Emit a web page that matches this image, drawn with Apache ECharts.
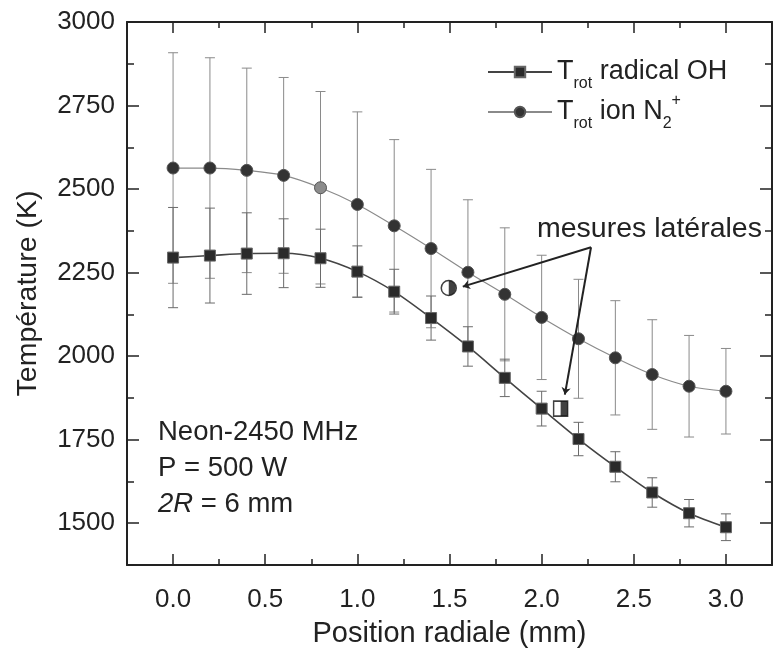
<!DOCTYPE html>
<html>
<head>
<meta charset="utf-8">
<title>Température vs position radiale</title>
<script src="https://cdn.jsdelivr.net/npm/echarts@6/dist/echarts.min.js"></script>
<style>
  html, body { margin: 0; padding: 0; background: #fff; }
  #chart { width: 775px; height: 653px; }
</style>
</head>
<body>
<div id="chart"></div>
<script>
// radial position (mm)
var positions = [0.0, 0.2, 0.4, 0.6, 0.8, 1.0, 1.2, 1.4, 1.6, 1.8, 2.0, 2.2, 2.4, 2.6, 2.8, 3.0];
// T_rot radical OH (K) and its error
var ohTemp = [2295, 2301, 2307, 2308, 2293, 2253, 2193, 2114, 2029, 1935, 1843, 1752, 1669, 1592, 1530, 1488];
var ohErr  = [150, 142, 122, 103, 87, 77, 67, 66, 59, 56, 52, 50, 45, 44, 41, 40];
// T_rot ion N2+ (K) and its error
var n2Temp = [2563, 2563, 2556, 2541, 2504, 2454, 2390, 2322, 2251, 2185, 2116, 2052, 1995, 1945, 1910, 1895];
var n2Err  = [345, 330, 306, 293, 288, 277, 258, 237, 217, 199, 186, 178, 171, 164, 152, 128];
// lateral measurements [position, temperature]
var lateralN2 = [1.496, 2204];
var lateralOH = [2.103, 1843];
// annotation arrows: from the label to each lateral point
var arrowFrom = [2.268, 2326];
var arrowToN2 = [1.572, 2208];
var arrowToOH = [2.126, 1885];
var yTicks = [1500, 1750, 2000, 2250, 2500, 2750, 3000];
var xTicks = [0.0, 0.5, 1.0, 1.5, 2.0, 2.5, 3.0];

var FONT = "'Liberation Sans', Arial, sans-serif";
var chart = echarts.init(document.getElementById('chart'));

function pairs(ys) {
  return positions.map(function (x, i) { return [x, ys[i]]; });
}
function errData(ys, es) {
  return positions.map(function (x, i) { return [x, ys[i] - es[i], ys[i] + es[i]]; });
}
function errorBar(color) {
  return function (params, api) {
    var x = api.value(0);
    var top = api.coord([x, api.value(2)]);
    var bot = api.coord([x, api.value(1)]);
    var hw = 5;
    var st = { stroke: color, lineWidth: 1 };
    return {
      type: 'group',
      children: [
        { type: 'line', shape: { x1: top[0] - hw, y1: top[1], x2: top[0] + hw, y2: top[1] }, style: st },
        { type: 'line', shape: { x1: top[0], y1: top[1], x2: bot[0], y2: bot[1] }, style: st },
        { type: 'line', shape: { x1: bot[0] - hw, y1: bot[1], x2: bot[0] + hw, y2: bot[1] }, style: st }
      ]
    };
  };
}

// right half filled glyphs for the lateral points
var halfDisc = 'path://M0,-10 A10,10 0 0,1 0,10 Z';
var halfSquare = 'path://M0,0 L6,0 L6,14 L0,14 Z';

var names = {
  oh: 'T{sub|rot} radical OH',
  n2: 'T{sub|rot} ion N{sub|2}{sup|+}'
};

function xAxisDef(pos, labels) {
  return {
    type: 'value', position: pos, min: -0.25, max: 3.25, interval: 0.25,
    axisLine: { onZero: false, lineStyle: { color: '#222', width: 2 } },
    axisTick: { inside: true, length: 6, lineStyle: { color: '#222', width: 1.5 } },
    axisLabel: labels ? {
      show: true, margin: 22, color: '#222', fontSize: 26, fontFamily: FONT,
      formatter: function (v) { return xTicks.indexOf(Math.round(v * 100) / 100) >= 0 ? v.toFixed(1) : ''; }
    } : { show: false },
    splitLine: { show: false }
  };
}
function xMajor(pos) {
  return {
    type: 'value', position: pos, min: -0.25, max: 3.25,
    axisLine: { show: false, onZero: false },
    axisTick: { inside: true, length: 11, customValues: xTicks, lineStyle: { color: '#222', width: 1.5 } },
    axisLabel: { show: false }, splitLine: { show: false }
  };
}
function yAxisDef(pos, labels) {
  return {
    type: 'value', position: pos, min: 1375, max: 3000, interval: 125,
    axisLine: { show: true, onZero: false, lineStyle: { color: '#222', width: 2 } },
    axisTick: { inside: true, length: 7, lineStyle: { color: '#222', width: 1.5 } },
    axisLabel: labels ? {
      show: true, margin: 12, color: '#222', fontSize: 26, fontFamily: FONT,
      formatter: function (v) { return yTicks.indexOf(v) >= 0 ? String(v) : ''; }
    } : { show: false },
    splitLine: { show: false }
  };
}
function yMajor(pos) {
  return {
    type: 'value', position: pos, min: 1375, max: 3000, offset: 0,
    axisLine: { show: false, onZero: false },
    axisTick: { inside: true, length: 12, customValues: yTicks, lineStyle: { color: '#222', width: 1.5 } },
    axisLabel: { show: false }, splitLine: { show: false }
  };
}

var xMain = xAxisDef('bottom', true);
xMain.name = 'Position radiale (mm)';
xMain.nameLocation = 'middle';
xMain.nameGap = 54;
xMain.nameTextStyle = { fontSize: 29, color: '#222', fontFamily: FONT };

var yMain = yAxisDef('left', true);
yMain.name = 'Température (K)';
yMain.nameLocation = 'middle';
yMain.nameGap = 84;
yMain.nameTextStyle = { fontSize: 28.5, color: '#222', fontFamily: FONT };

var option = {
  backgroundColor: '#fff',
  animation: false,
  textStyle: { fontFamily: FONT },
  grid: { left: 127, top: 22, right: -11, bottom: 86 },
  xAxis: [xMain, xAxisDef('top', false), xMajor('bottom'), xMajor('top')],
  yAxis: [yMain, yAxisDef('right', false), yMajor('left'), yMajor('right')],
  legend: {
    orient: 'vertical',
    left: 482, top: 47,
    itemWidth: 64, itemHeight: 13, itemGap: 0,
    data: ['oh', 'n2'],
    formatter: function (n) { return names[n]; },
    textStyle: {
      color: '#222', fontSize: 27, fontFamily: FONT, lineHeight: 36,
      rich: {
        sub: { fontSize: 16, lineHeight: 16, padding: [24, 0, 0, 0], color: '#222', fontFamily: FONT },
        sup: { fontSize: 16, lineHeight: 16, padding: [0, 0, 22, 0], color: '#222', fontFamily: FONT }
      }
    }
  },
  graphic: [
    { type: 'text', left: 537, top: 215,
      style: { text: 'mesures latérales', fontSize: 28.5, fill: '#222', fontFamily: FONT } },
    { type: 'text', left: 158, top: 414,
      style: {
        text: 'Neon-2450 MHz\nP = 500 W\n{i|2R} = 6 mm',
        fontSize: 27.5, lineHeight: 36, fill: '#222', fontFamily: FONT,
        rich: { i: { fontStyle: 'italic', fontSize: 27.5, fontFamily: FONT, fill: '#222' } }
      } }
  ],
  series: [
    {
      type: 'custom', name: 'errN2', renderItem: errorBar('#8a8a8a'),
      data: errData(n2Temp, n2Err), z: 1, silent: true
    },
    {
      type: 'custom', name: 'errOH', renderItem: errorBar('#6a6a6a'),
      data: errData(ohTemp, ohErr), z: 1, silent: true
    },
    {
      type: 'line', name: 'n2', data: pairs(n2Temp).map(function (p, i) {
        return i === 4 ? { value: p, itemStyle: { color: '#8c8c8c' } } : p;
      }),
      smooth: 0.3, symbol: 'circle', symbolSize: 12,
      lineStyle: { color: '#8a8a8a', width: 1.2 },
      itemStyle: { color: '#333', borderColor: '#555', borderWidth: 1 },
      z: 3
    },
    {
      type: 'line', name: 'oh', data: pairs(ohTemp),
      smooth: 0.3, symbol: 'rect', symbolSize: 11,
      lineStyle: { color: '#444', width: 1.6 },
      itemStyle: { color: '#2a2a2a', borderColor: '#666', borderWidth: 1 },
      z: 4
    },
    {
      type: 'scatter', name: 'latN2', data: [lateralN2],
      symbol: 'circle', symbolSize: 15,
      itemStyle: { color: '#fff', borderColor: '#111', borderWidth: 1.5 }, z: 5
    },
    {
      type: 'scatter', name: 'latN2half', data: [lateralN2],
      symbol: halfDisc, symbolSize: [7, 15], symbolKeepAspect: false,
      symbolOffset: [3.5, 0],
      itemStyle: { color: '#111' }, z: 6
    },
    {
      type: 'scatter', name: 'latOH', data: [lateralOH],
      symbol: 'rect', symbolSize: [14, 15],
      itemStyle: { color: '#fff', borderColor: '#111', borderWidth: 1.5 }, z: 5
    },
    {
      type: 'scatter', name: 'latOHhalf', data: [lateralOH],
      symbol: halfSquare, symbolSize: [7, 15], symbolOffset: [3.5, 0],
      itemStyle: { color: '#111' }, z: 6
    },
    {
      type: 'lines', coordinateSystem: 'cartesian2d', name: 'arrows',
      symbol: ['none', 'arrow'], symbolSize: 7,
      lineStyle: { color: '#222', width: 2, opacity: 1 },
      data: [
        { coords: [arrowFrom, arrowToN2] },
        { coords: [arrowFrom, arrowToOH] }
      ],
      z: 7, silent: true
    }
  ]
};
chart.setOption(option);
</script>
</body>
</html>
